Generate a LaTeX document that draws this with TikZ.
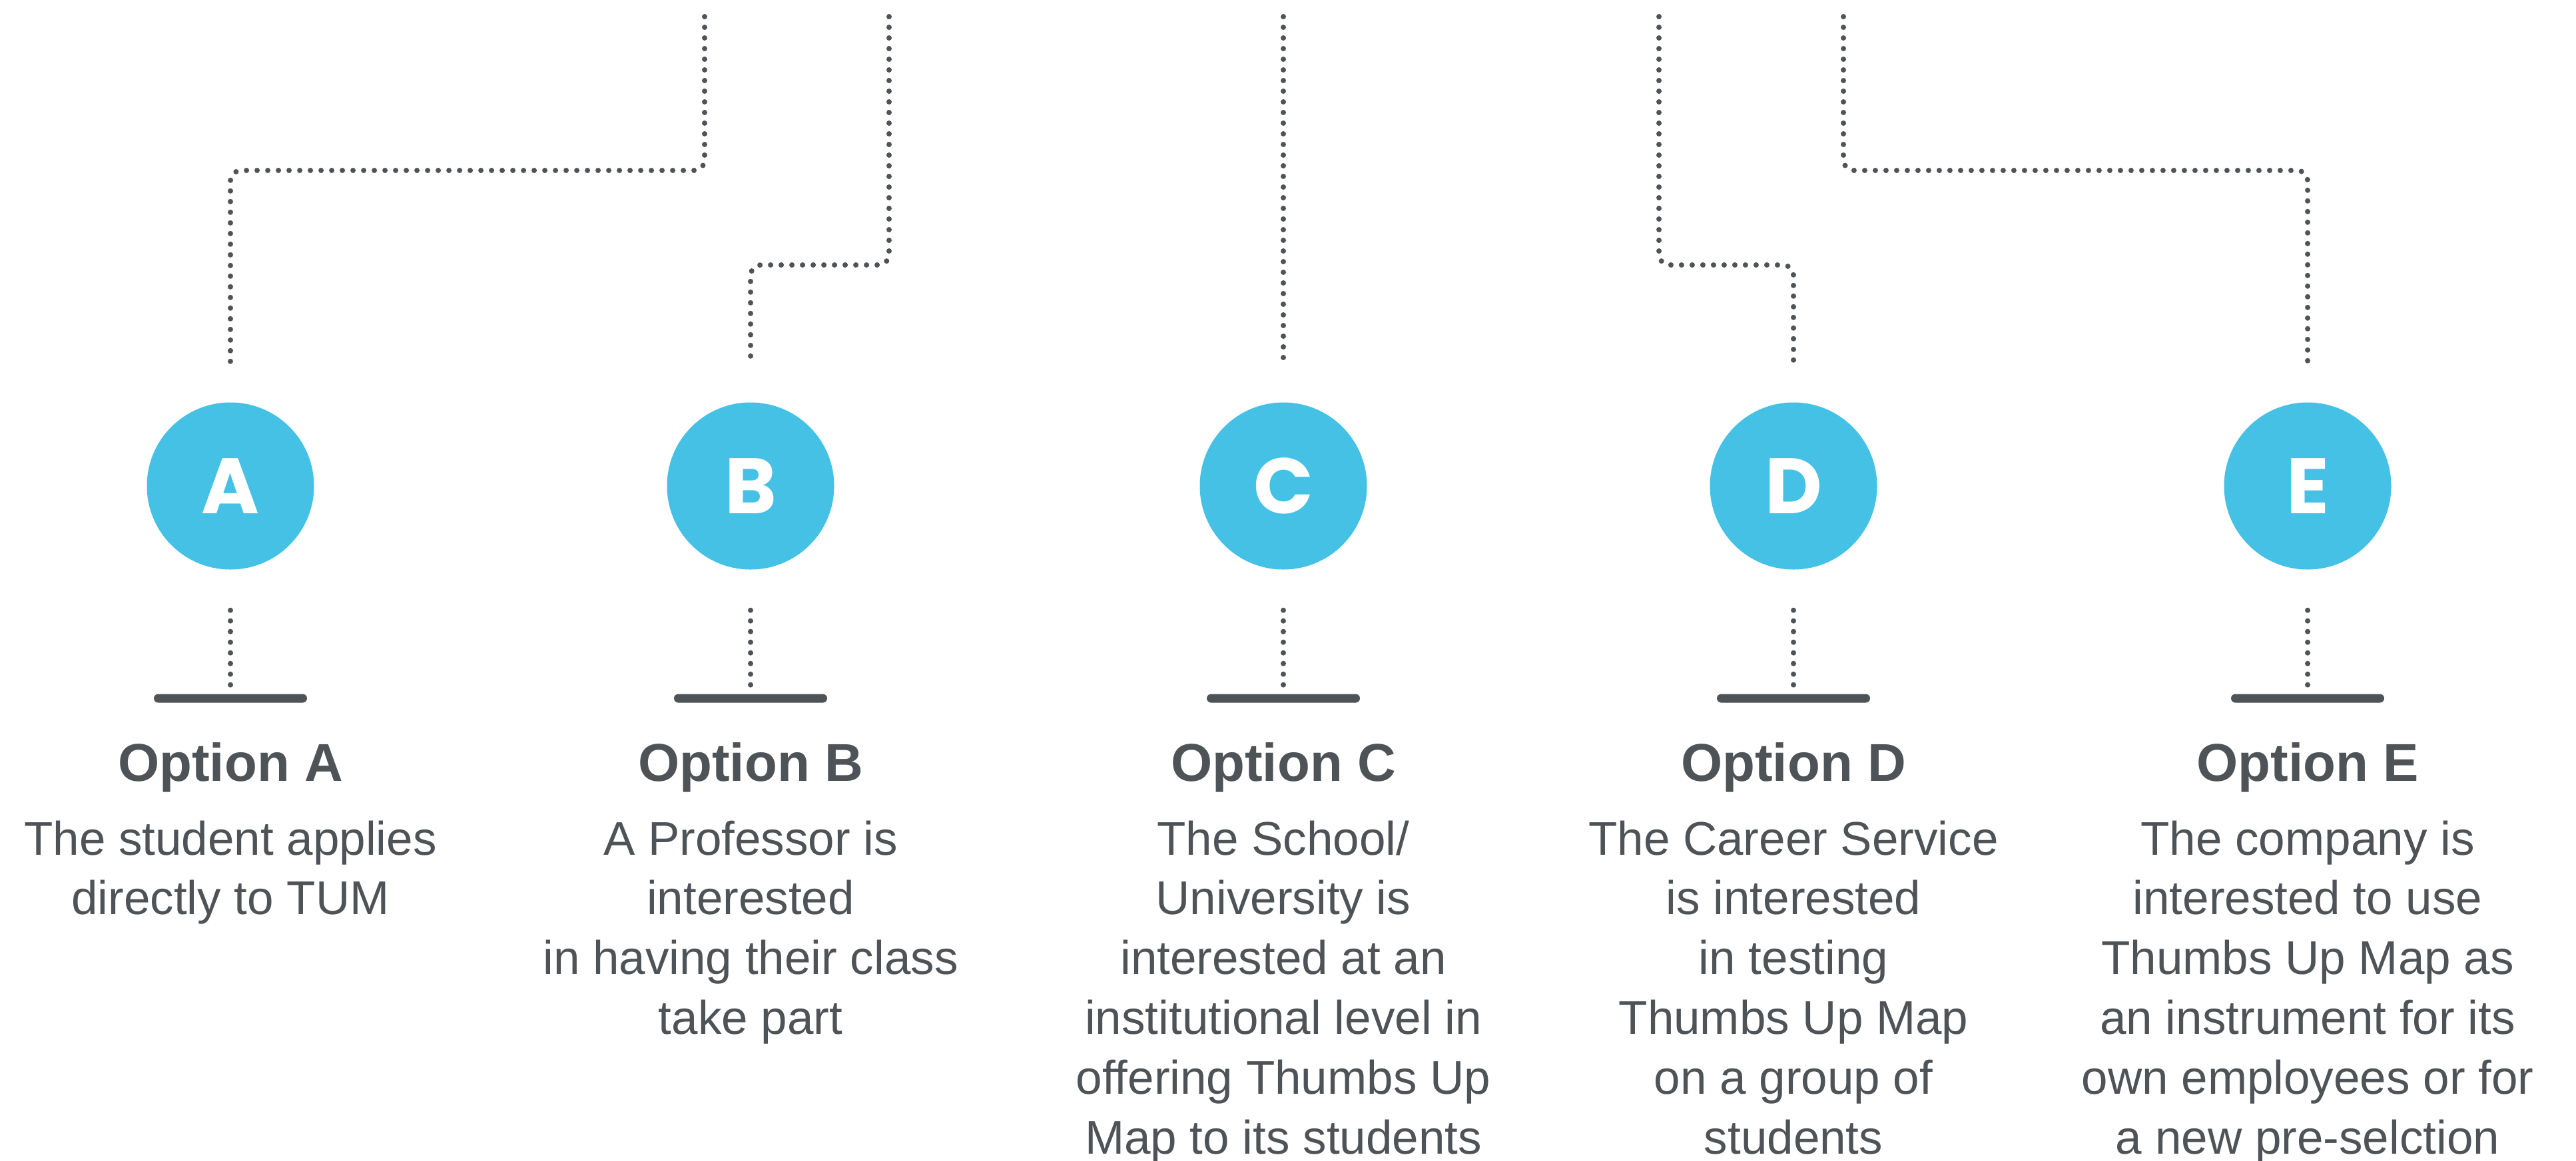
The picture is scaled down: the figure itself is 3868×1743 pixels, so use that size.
\documentclass[tikz,border=0pt]{standalone}
\usepackage{fontspec}
\setmainfont{Liberation Sans}
\newfontfamily\letterfont{Poppins}
\definecolor{cblue}{HTML}{45C1E6}
\definecolor{ink}{HTML}{4E5358}
\begin{document}
\begin{tikzpicture}[x=1pt,y=-1pt,
  dotline/.style={draw=ink, line width=8pt, line cap=round, dash pattern=on 0pt off 16pt, rounded corners=16pt},
  bubble/.style={circle, fill=cblue, minimum size=251pt, inner sep=0pt},
  letter/.style={text=white, font=\letterfont\bfseries\fontsize{118}{118}\selectfont, inner sep=0pt},
  barbox/.style={fill=ink, minimum width=230pt, minimum height=13pt, inner sep=0pt, rounded corners=6.5pt},
  title/.style={text=ink, font=\bfseries\fontsize{80}{96}\selectfont, anchor=base, inner sep=0pt},
  body/.style={text=ink, font=\fontsize{71}{89.8}\selectfont, anchor=base, align=center, inner sep=0pt}]
\fill[white] (0,0) rectangle (3868,1743);
\clip (0,0) rectangle (3868,1743);

% circles
\node[bubble] (cA) at (346,730) {};
\node[bubble] (cB) at (1127,730) {};
\node[bubble] (cC) at (1927,730) {};
\node[bubble] (cD) at (2693,730) {};
\node[bubble] (cE) at (3465,730) {};
\node[letter] (lA) at (cA.center) {A};
\node[letter] (lB) at (cB.center) {B};
\node[letter] (lC) at (cC.center) {C};
\node[letter] (lD) at (cD.center) {D};
\node[letter] (lE) at (cE.center) {E};

% top connectors
\coordinate (tA) at (1058,25);
\coordinate (tB) at (1335,25);
\coordinate (tC) at (1927,25);
\coordinate (tD) at (2491,25);
\coordinate (tE) at (2768,25);
\coordinate (kA1) at (1058,256); \coordinate (kA2) at (346,256);
\coordinate (kB1) at (1335,398); \coordinate (kB2) at (1127,398);
\coordinate (kD1) at (2491,398); \coordinate (kD2) at (2693,398);
\coordinate (kE1) at (2768,256); \coordinate (kE2) at (3465,256);
\draw[dotline] (tA) -- (kA1) -- (kA2) -- ([yshift=58pt]cA.north);
\draw[dotline] (tB) -- (kB1) -- (kB2) -- ([yshift=58pt]cB.north);
\draw[dotline] (tC) -- ([yshift=58pt]cC.north);
\draw[dotline] (tD) -- (kD1) -- (kD2) -- ([yshift=58pt]cD.north);
\draw[dotline] (tE) -- (kE1) -- (kE2) -- ([yshift=58pt]cE.north);

% bars
\node[barbox] (bA) at (346,1049) {};
\node[barbox] (bB) at (1127,1049) {};
\node[barbox] (bC) at (1927,1049) {};
\node[barbox] (bD) at (2693,1049) {};
\node[barbox] (bE) at (3465,1049) {};
\foreach \n in {A,B,C,D,E}{
  \draw[dotline] ([yshift=-61pt]c\n.south) -- (b\n.north);
}

% titles
\node[title] (oA) at (346,1173) {Option A};
\node[title] (oB) at (1127,1173) {Option B};
\node[title] (oC) at (1927,1173) {Option C};
\node[title] (oD) at (2693,1173) {Option D};
\node[title] (oE) at (3465,1173) {Option E};

% bodies (anchor=base is the baseline of the last line)
\node[body] (dA) at (346,1373.8) {The student applies\\directly to TUM};
\node[body] (dB) at (1127,1553.4) {A Professor is\\interested\\in having their class\\take part};
\node[body] (dC) at (1927,1733) {The School/\\University is\\interested at an\\institutional level in\\offering Thumbs Up\\Map to its students};
\node[body] (dD) at (2693,1733) {The Career Service\\is interested\\in testing\\Thumbs Up Map\\on a group of\\students};
\node[body] (dE) at (3465,1733) {The company is\\interested to use\\Thumbs Up Map as\\an instrument for its\\own employees or for\\a new pre-selction};
\end{tikzpicture}
\end{document}
